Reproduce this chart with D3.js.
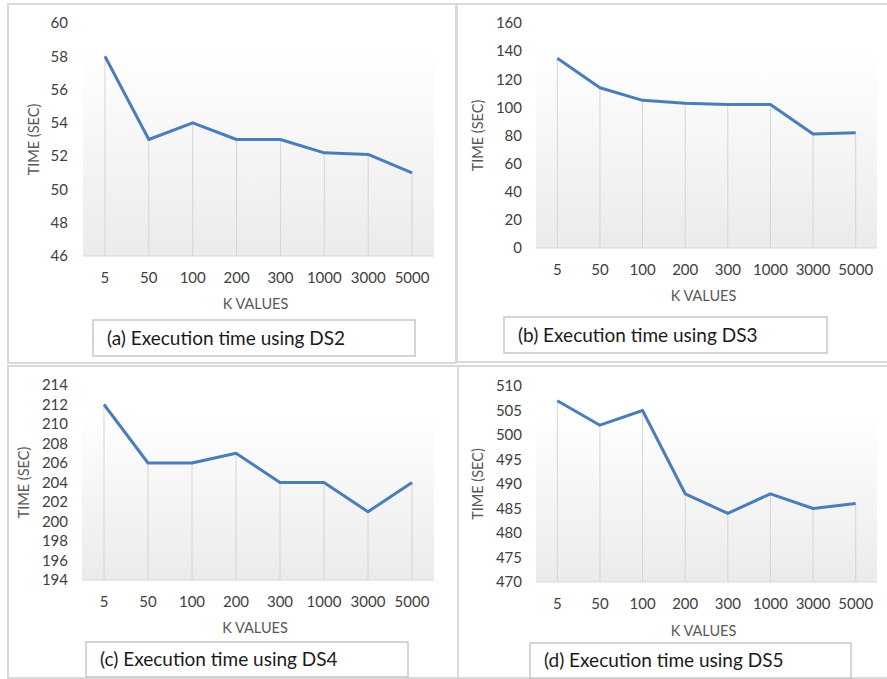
<!DOCTYPE html>
<html>
<head>
<meta charset="utf-8">
<script src="https://cdn.jsdelivr.net/npm/d3@7"></script>
<style>
body { margin: 0; background: #fff; }
svg { display: block; font-family: Lato, 'Open Sans', sans-serif; }
</style>
</head>
<body>
<svg id="chart" width="887" height="679"></svg>
<script>
// K values on the x axis (same for every panel)
const kValues = ['5', '50', '100', '200', '300', '1000', '3000', '5000'];

// execution times in seconds
const ds2Times = [58, 53, 54, 53, 53, 52.2, 52.1, 51];
const ds3Times = [135, 114, 105, 103, 102, 102, 81, 82];
const ds4Times = [212, 206, 206, 207, 204, 204, 201, 204];
const ds5Times = [507, 502, 505, 488, 484, 488, 485, 486];

// y tick labels
const ds2Ticks = [46, 48, 50, 52, 54, 56, 58, 60];
const ds3Ticks = [0, 20, 40, 60, 80, 100, 120, 140, 160];
const ds4Ticks = [194, 196, 198, 200, 202, 204, 206, 208, 210, 212, 214];
const ds5Ticks = [470, 475, 480, 485, 490, 495, 500, 505, 510];

const captions = [
    '(a) Execution time using DS2',
    '(b) Execution time using DS3',
    '(c) Execution time using DS4',
    '(d) Execution time using DS5'
];

const panels = [
    { times: ds2Times, ticks: ds2Ticks, caption: captions[0],
      frame: [8, 4, 448, 359], x0: 83, x1: 434, y0: 256, y1: 23,
      labelRight: 68, titleX: 34, xLabelY: 278, kTitleY: 304,
      box: [93, 320, 322, 36] },
    { times: ds3Times, ticks: ds3Ticks, caption: captions[1],
      frame: [457, 4, 440, 358], x0: 536, x1: 877, y0: 248, y1: 23,
      labelRight: 522, titleX: 478, xLabelY: 270, kTitleY: 296,
      box: [504, 317, 323, 36] },
    { times: ds4Times, ticks: ds4Ticks, caption: captions[2],
      frame: [8, 366, 450, 312], x0: 82, x1: 434, y0: 580, y1: 385,
      labelRight: 68, titleX: 24, xLabelY: 602, kTitleY: 628,
      box: [86, 642, 322, 35] },
    { times: ds5Times, ticks: ds5Ticks, caption: captions[3],
      frame: [458, 366, 440, 312], x0: 536, x1: 877, y0: 582, y1: 386,
      labelRight: 522, titleX: 478, xLabelY: 604, kTitleY: 631,
      box: [530, 643, 321, 35] }
];

const svg = d3.select('#chart');

const grad = svg.append('defs').append('linearGradient')
    .attr('id', 'plotfill')
    .attr('x1', 0).attr('y1', 0).attr('x2', 0).attr('y2', 1);
grad.append('stop').attr('offset', '0%').attr('stop-color', '#ffffff');
grad.append('stop').attr('offset', '100%').attr('stop-color', '#ebebeb');

panels.forEach(p => {
    const g = svg.append('g');

    // outer frame
    g.append('rect')
        .attr('x', p.frame[0]).attr('y', p.frame[1])
        .attr('width', p.frame[2]).attr('height', p.frame[3])
        .attr('fill', 'none')
        .attr('stroke', '#d9d9d9')
        .attr('stroke-width', 2);

    const x = d3.scaleBand()
        .domain(kValues)
        .range([p.x0, p.x1]);
    const y = d3.scaleLinear()
        .domain([p.ticks[0], p.ticks[p.ticks.length - 1]])
        .range([p.y0, p.y1]);

    // plot area gradient
    g.append('rect')
        .attr('x', p.x0).attr('y', p.y1 + 27)
        .attr('width', p.x1 - p.x0).attr('height', p.y0 - p.y1 - 27)
        .attr('fill', 'url(#plotfill)');

    const cx = d => x(d) + x.bandwidth() / 2;

    // drop lines
    g.selectAll('.drop')
        .data(p.times)
        .enter()
        .append('line')
        .attr('x1', (d, i) => cx(kValues[i]))
        .attr('x2', (d, i) => cx(kValues[i]))
        .attr('y1', d => y(d))
        .attr('y2', p.y0)
        .attr('stroke', '#d4d4d4')
        .attr('stroke-width', 1);

    // baseline
    g.append('line')
        .attr('x1', p.x0).attr('x2', p.x1)
        .attr('y1', p.y0).attr('y2', p.y0)
        .attr('stroke', '#d9d9d9')
        .attr('stroke-width', 1);

    // y tick labels
    g.selectAll('.ytick')
        .data(p.ticks)
        .enter()
        .append('text')
        .attr('x', p.labelRight)
        .attr('y', d => y(d))
        .attr('dy', '0.35em')
        .attr('text-anchor', 'end')
        .attr('font-size', 15)
        .attr('fill', '#404040')
        .text(d => d);

    // x tick labels
    g.selectAll('.xtick')
        .data(kValues)
        .enter()
        .append('text')
        .attr('x', d => cx(d))
        .attr('y', p.xLabelY)
        .attr('dy', '0.35em')
        .attr('text-anchor', 'middle')
        .attr('font-size', 15)
        .attr('fill', '#404040')
        .text(d => d);

    // axis titles
    g.append('text')
        .attr('x', (p.x0 + p.x1) / 2 - 3)
        .attr('y', p.kTitleY)
        .attr('dy', '0.35em')
        .attr('text-anchor', 'middle')
        .attr('font-size', 14.5)
        .attr('fill', '#595959')
        .text('K VALUES');

    g.append('text')
        .attr('transform', `translate(${p.titleX},${(p.y0 + p.y1) / 2}) rotate(-90)`)
        .attr('dy', '0.35em')
        .attr('text-anchor', 'middle')
        .attr('font-size', 14.5)
        .attr('fill', '#595959')
        .text('TIME (SEC)');

    // the series line
    const line = d3.line()
        .x((d, i) => cx(kValues[i]))
        .y(d => y(d));
    g.append('path')
        .datum(p.times)
        .attr('d', line)
        .attr('fill', 'none')
        .attr('stroke', '#4a7ebb')
        .attr('stroke-width', 3)
        .attr('stroke-linejoin', 'round');

    // caption box
    g.append('rect')
        .attr('x', p.box[0]).attr('y', p.box[1])
        .attr('width', p.box[2]).attr('height', p.box[3])
        .attr('fill', '#fff')
        .attr('stroke', '#c8c8c8')
        .attr('stroke-width', 1.5);
    g.append('text')
        .attr('x', p.box[0] + 14)
        .attr('y', p.box[1] + p.box[3] / 2)
        .attr('dy', '0.35em')
        .attr('font-size', 19)
        .attr('fill', '#1a1a1a')
        .text(p.caption);
});
</script>
</body>
</html>
